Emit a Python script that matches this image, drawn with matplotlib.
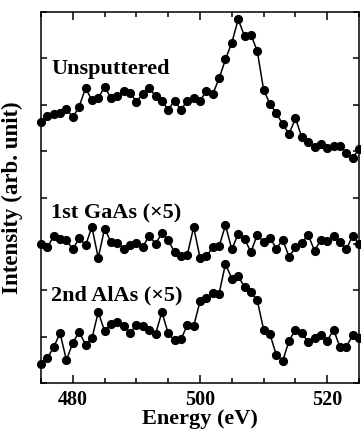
import numpy as np
import matplotlib
matplotlib.use("Agg")
import matplotlib.pyplot as plt
from matplotlib.ticker import MultipleLocator

plt.rcParams['font.family'] = ['Liberation Serif', 'DejaVu Serif']
plt.rcParams['font.weight'] = 'bold'

# photon energy, 1 eV steps
energy = np.arange(475, 526)

unsputtered = [5.62, 5.76, 5.81, 5.83, 5.91, 5.73, 5.96, 6.36, 6.10, 6.14,
               6.39, 6.14, 6.19, 6.29, 6.26, 6.07, 6.23, 6.36, 6.19, 6.09,
               5.89, 6.09, 5.89, 6.09, 6.14, 6.09, 6.29, 6.23, 6.57, 6.98,
               7.34, 7.84, 7.48, 7.51, 7.16, 6.32, 6.02, 5.82, 5.58, 5.37,
               5.71, 5.30, 5.19, 5.10, 5.15, 5.07, 5.12, 5.12, 4.96, 4.85,
               5.05]

gaas_1st = [2.99, 2.93, 3.16, 3.11, 3.08, 2.88, 3.13, 2.97, 3.36, 2.70,
            3.33, 3.04, 3.02, 2.90, 2.97, 3.02, 2.93, 3.18, 3.00, 3.23,
            3.08, 2.82, 2.73, 2.77, 3.36, 2.70, 2.73, 2.93, 2.95, 3.40,
            2.88, 3.22, 3.11, 2.82, 3.20, 3.04, 3.13, 2.90, 3.09, 2.72,
            2.93, 3.02, 3.20, 2.85, 3.09, 3.06, 3.16, 3.04, 2.88, 3.18,
            2.99]

alas_2nd = [0.42, 0.53, 0.78, 1.07, 0.49, 0.87, 1.10, 0.83, 0.96, 1.53,
            1.12, 1.28, 1.32, 1.23, 1.07, 1.26, 1.23, 1.15, 1.05, 1.53,
            1.07, 0.92, 0.94, 1.25, 1.23, 1.76, 1.83, 1.94, 1.93, 2.57,
            2.25, 2.30, 2.07, 1.96, 1.78, 1.15, 1.05, 0.60, 0.48, 0.91,
            1.15, 1.07, 0.89, 0.96, 1.03, 0.91, 1.15, 0.77, 0.78, 1.03,
            0.98]

labels = ["Unsputtered", "1st GaAs (\u00d75)", "2nd AlAs (\u00d75)"]
label_y = [6.77, 3.66, 1.89]

fig = plt.figure(figsize=(3.61, 4.30), dpi=100)
ax = fig.add_axes([0.1136, 0.1093, 0.881, 0.8627])

for series in [unsputtered, gaas_1st, alas_2nd]:
    ax.plot(energy, series, color='black', lw=1.1, marker='o',
            markersize=5.6, clip_on=False)

for text, y in zip(labels, label_y):
    ax.text(476.6, y, text, fontsize=16, fontweight='bold', va='center', ha='left')

ax.set_xlim(475, 525)
ax.set_ylim(0, 8)
ax.xaxis.set_major_locator(MultipleLocator(20))
ax.xaxis.set_minor_locator(MultipleLocator(5))
ax.yaxis.set_major_locator(MultipleLocator(1))
ax.set_yticklabels([])
ax.tick_params(which='both', direction='in', top=True, right=True, width=1.1)
ax.tick_params(which='major', length=6, labelsize=14.5, pad=5)
ax.tick_params(which='minor', length=3.5)
ax.tick_params(axis='y', which='major', length=4.5)
for s in ax.spines.values():
    s.set_linewidth(1.1)

ax.set_xlabel("Energy (eV)", fontsize=16, fontweight='bold', labelpad=-1)
ax.set_ylabel("Intensity (arb. unit)", fontsize=16.5, fontweight='bold', labelpad=8)

fig.savefig("out.png", dpi=100)
